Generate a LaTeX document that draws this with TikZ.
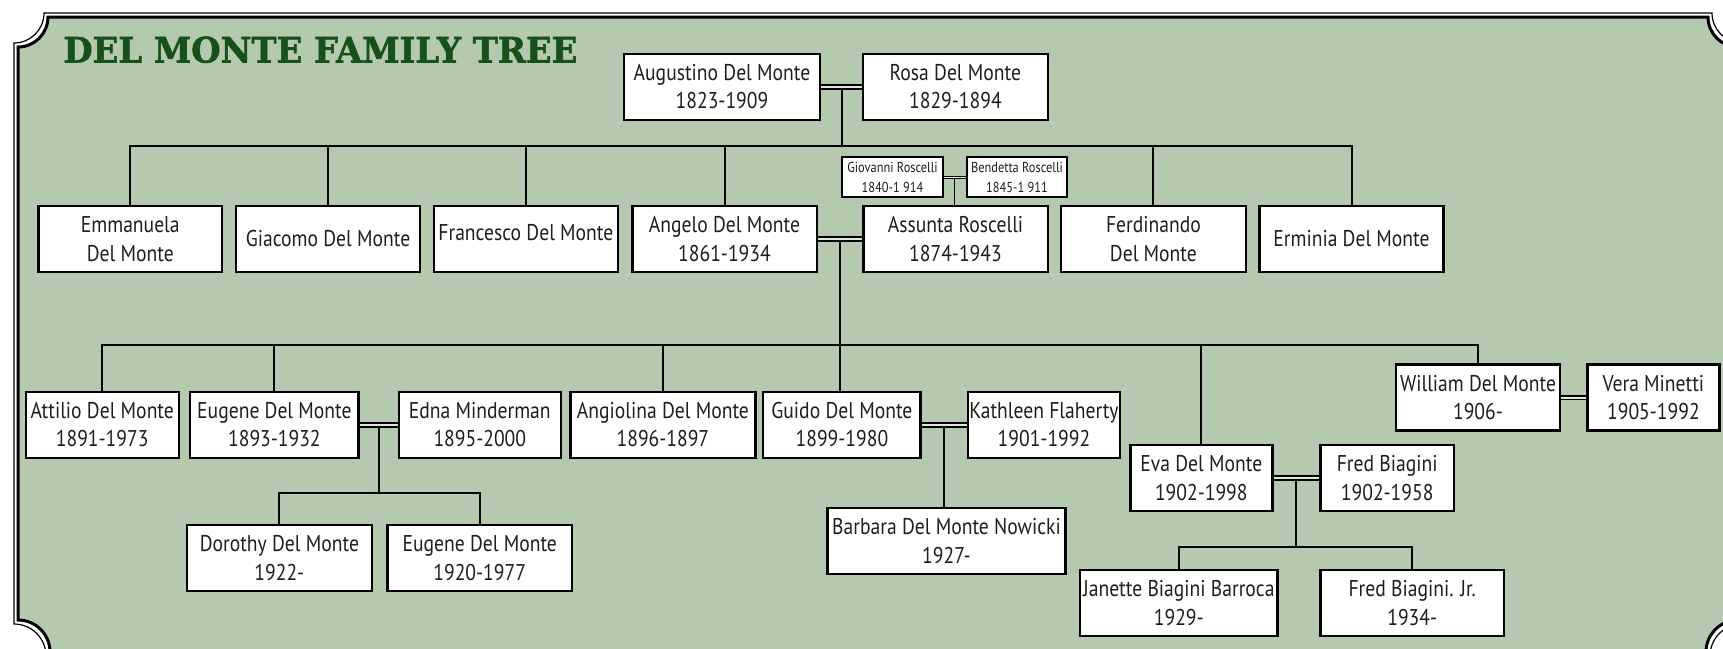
\documentclass[tikz,border=0pt]{standalone}
\usepackage{fontspec}
\setmainfont{PT Sans}[FakeStretch=0.86]
\newfontfamily\titlefont{DejaVu Serif}[FakeBold=1.5]
\usetikzlibrary{calc}
\definecolor{sage}{RGB}{181,200,176}
\definecolor{titlegreen}{RGB}{22,80,26}
\definecolor{ink}{RGB}{30,30,30}
\tikzset{
  person/.style={draw=black,fill=white,line width=1.2pt,minimum height=33pt,inner sep=0pt,
    align=center,text=ink,font=\fontsize{11.4}{14.2}\selectfont},
  parent/.style={person,minimum height=20pt,line width=1.1pt,font=\fontsize{7.2}{10}\selectfont},
  link/.style={line width=1pt},
  wed/.style={double=sage!45!white,double distance=1pt,line width=0.9pt},
  thinwed/.style={double=sage!45!white,double distance=0.6pt,line width=0.5pt}
}
\begin{document}
\begin{tikzpicture}[x=0.5pt,y=-0.5pt,line join=miter]
  \useasboundingbox (0,0) rectangle (1723,648);
  \clip (0,0) rectangle (1723,648);
  % frame
  \draw[line width=0.6pt] (44,13) -- (1712,13) arc[start angle=180,end angle=90,radius=30]
    -- (1742,624) arc[start angle=270,end angle=180,radius=32]
    -- (46,656) arc[start angle=0,end angle=-90,radius=32]
    -- (14,43) arc[start angle=90,end angle=0,radius=30] -- cycle;
  \draw[fill=sage,line width=1.5pt] (48,17) -- (1708,17) arc[start angle=180,end angle=90,radius=30]
    -- (1738,620) arc[start angle=270,end angle=180,radius=32]
    -- (50,652) arc[start angle=0,end angle=-90,radius=32]
    -- (18,47) arc[start angle=90,end angle=0,radius=30] -- cycle;
  \node[anchor=base west,inner sep=0pt,text=titlegreen] (title) at (63,62.5)
    {\resizebox{257pt}{13pt}{\titlefont\bfseries DEL MONTE FAMILY TREE}};

  % first generation
  \node[person,minimum width=98pt] (augustino) at (722,86.7) {Augustino Del Monte\\1823-1909};
  \node[person,minimum width=92.4pt] (rosa) at (955.4,86.7) {Rosa Del Monte\\1829-1894};

  % their children
  \node[person,minimum width=91.9pt] (emmanuela) at (130.3,239) {Emmanuela\\Del Monte};
  \node[person,minimum width=92pt] (giacomo) at (328,239) {Giacomo Del Monte};
  \node[person,minimum width=92.1pt] (francesco) at (525.9,239) {\raisebox{7pt}{Francesco Del Monte}};
  \node[person,minimum width=92.2pt] (angelo) at (724.5,239) {Angelo Del Monte\\1861-1934};
  \node[person,minimum width=92.2pt] (assunta) at (955.5,239) {Assunta Roscelli\\1874-1943};
  \node[person,minimum width=92.6pt] (ferdinando) at (1153.4,239) {Ferdinando\\Del Monte};
  \node[person,minimum width=92.1pt] (erminia) at (1351.5,239) {Erminia Del Monte};
  \node[parent,minimum width=50.2pt] (giovanni) at (892.5,177.3) {Giovanni Roscelli\\1840-1 914};
  \node[parent,minimum width=50.3pt] (bendetta) at (1017,177.3) {Bendetta Roscelli\\1845-1 911};

  % grandchildren
  \node[person,minimum width=76.5pt] (attilio) at (102.2,424.7) {Attilio Del Monte\\1891-1973};
  \node[person,minimum width=84.2pt] (eugene) at (274.4,424.7) {Eugene Del Monte\\1893-1932};
  \node[person,minimum width=81pt] (edna) at (479.8,424.7) {Edna Minderman\\1895-2000};
  \node[person,minimum width=92.6pt] (angiolina) at (662.9,424.7) {Angiolina Del Monte\\1896-1897};
  \node[person,minimum width=78.7pt] (guido) at (841.9,424.7) {Guido Del Monte\\1899-1980};
  \node[person,minimum width=76.2pt] (kathleen) at (1044,424.7) {Kathleen Flaherty\\1901-1992};
  \node[person,minimum width=71pt] (eva) at (1201.3,478.2) {Eva Del Monte\\1902-1998};
  \node[person,minimum width=66.8pt] (fred) at (1387.2,478.2) {Fred Biagini\\1902-1958};
  \node[person,minimum width=82pt] (william) at (1478,397.5) {William Del Monte\\1906-};
  \node[person,minimum width=66.1pt] (vera) at (1653.4,397.5) {Vera Minetti\\1905-1992};

  % great-grandchildren
  \node[person,minimum width=92.6pt] (dorothy) at (279.4,558) {Dorothy Del Monte\\1922-};
  \node[person,minimum width=92.4pt] (eugenejr) at (479.7,558) {Eugene Del Monte\\1920-1977};
  \node[person,minimum width=119pt] (barbara) at (946.5,541.2) {Barbara Del Monte Nowicki\\1927-};
  \node[person,minimum width=98.8pt] (janette) at (1178.8,603) {Janette Biagini Barroca\\1929-};
  \node[person,minimum width=91.8pt] (fredjr) at (1412.2,603) {Fred Biagini. Jr.\\1934-};

  % couples and sibling bars
  \coordinate (m0) at ($(giovanni.east)!0.5!(bendetta.west)$);
  \coordinate (m1) at ($(augustino.east)!0.5!(rosa.west)$);
  \coordinate (m2) at ($(angelo.east)!0.5!(assunta.west)$);
  \coordinate (m3) at ($(eugene.east)!0.5!(edna.west)$);
  \coordinate (m4) at ($(guido.east)!0.5!(kathleen.west)$);
  \coordinate (m5) at ($(eva.east)!0.5!(fred.west)$);
  \coordinate (bar1) at (0,146);
  \coordinate (bar2) at (0,345);
  \coordinate (bar3) at (0,493.3);
  \coordinate (bar4) at (0,546.7);

  \draw[link] (m1) -- (m1 |- bar1);
  \draw[link] (emmanuela.north) |- (erminia.north |- bar1) -- (erminia.north);
  \foreach \k in {giacomo,francesco,angelo,ferdinando}
    \draw[link] (\k.north) -- (\k.north |- bar1);
  \draw[link,line width=0.6pt] (m0) -- (m0 |- assunta.north);
  \draw[link] (m2) -- (m2 |- guido.north);
  \draw[link] (attilio.north) |- (william.north |- bar2) -- (william.north);
  \foreach \k in {eugene,angiolina,eva}
    \draw[link] (\k.north) -- (\k.north |- bar2);
  \draw[link] (m3) -- (m3 |- bar3);
  \draw[link] (dorothy.north) |- (eugenejr.north |- bar3) -- (eugenejr.north);
  \draw[link] (m4) -- (m4 |- barbara.north);
  \draw[link] (m5) -- (m5 |- bar4);
  \draw[link] (janette.north) |- (fredjr.north |- bar4) -- (fredjr.north);

  \draw[thinwed] (giovanni.east) -- (bendetta.west);
  \draw[wed] (augustino.east) -- (rosa.west);
  \draw[wed] (angelo.east) -- (assunta.west);
  \draw[wed] (eugene.east) -- (edna.west);
  \draw[wed] (guido.east) -- (kathleen.west);
  \draw[wed] (eva.east) -- (fred.west);
  \draw[wed] (william.east) -- (vera.west);
\end{tikzpicture}
\end{document}
